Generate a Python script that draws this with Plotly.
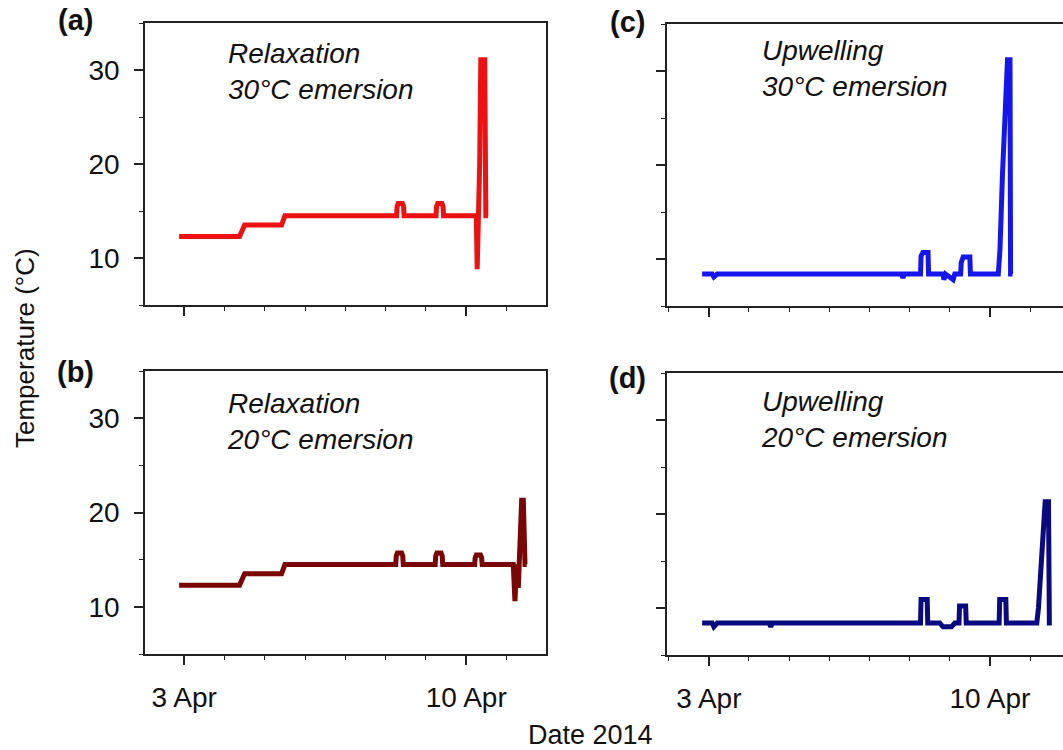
import plotly.graph_objects as go

# ---------------- data ----------------
a_time = ["2014-04-02 21:00", "2014-04-04 09:00", "2014-04-04 12:00", "2014-04-05 10:00",
          "2014-04-05 12:00", "2014-04-08 06:30", "2014-04-08 06:50", "2014-04-08 07:30",
          "2014-04-08 10:00", "2014-04-08 10:40", "2014-04-08 11:00", "2014-04-09 06:00",
          "2014-04-09 06:20", "2014-04-09 07:00", "2014-04-09 09:30", "2014-04-09 10:10",
          "2014-04-09 10:30", "2014-04-10 06:00", "2014-04-10 06:30", "2014-04-10 07:30",
          "2014-04-10 08:00", "2014-04-10 08:40", "2014-04-10 11:00", "2014-04-10 11:40",
          "2014-04-10 13:00"]
a_temp = [12.3, 12.3, 13.5, 13.5, 14.5, 14.5, 15.5, 15.8, 15.8, 15.5, 14.5, 14.5,
          15.5, 15.8, 15.8, 15.5, 14.5, 14.5, 8.8, 14.5, 20.0, 31.1, 31.1, 14.5, 14.5]

b_time = ["2014-04-02 21:00", "2014-04-04 09:00", "2014-04-04 12:00", "2014-04-05 10:00",
          "2014-04-05 12:00", "2014-04-08 06:00", "2014-04-08 06:20", "2014-04-08 07:00",
          "2014-04-08 09:30", "2014-04-08 10:10", "2014-04-08 10:30", "2014-04-09 05:30",
          "2014-04-09 05:50", "2014-04-09 06:30", "2014-04-09 09:00", "2014-04-09 09:40",
          "2014-04-09 10:00", "2014-04-10 05:00", "2014-04-10 05:20", "2014-04-10 06:00",
          "2014-04-10 08:30", "2014-04-10 09:10", "2014-04-10 09:30", "2014-04-11 04:00",
          "2014-04-11 05:00", "2014-04-11 06:00", "2014-04-11 07:00", "2014-04-11 08:00",
          "2014-04-11 09:00", "2014-04-11 10:00", "2014-04-11 11:00", "2014-04-11 12:00"]
b_temp = [12.3, 12.3, 13.5, 13.5, 14.5, 14.5, 15.4, 15.7, 15.7, 15.4, 14.5, 14.5,
          15.4, 15.7, 15.7, 15.4, 14.5, 14.5, 15.2, 15.5, 15.5, 15.2, 14.5, 14.5,
          10.6, 14.5, 12.0, 17.0, 21.3, 21.3, 14.5, 14.5]

c_time = ["2014-04-02 20:00", "2014-04-03 02:00", "2014-04-03 03:00", "2014-04-03 05:00",
          "2014-04-07 19:00", "2014-04-07 20:00", "2014-04-07 21:00", "2014-04-08 06:30",
          "2014-04-08 06:50", "2014-04-08 08:00", "2014-04-08 11:00", "2014-04-08 11:20",
          "2014-04-08 20:00", "2014-04-08 20:30", "2014-04-08 21:30", "2014-04-09 02:00",
          "2014-04-09 03:00", "2014-04-09 06:30", "2014-04-09 06:50", "2014-04-09 08:00",
          "2014-04-09 12:00", "2014-04-09 12:20", "2014-04-10 05:00", "2014-04-10 06:00",
          "2014-04-10 07:30", "2014-04-10 09:00", "2014-04-10 10:30", "2014-04-10 12:00",
          "2014-04-10 12:20", "2014-04-10 13:30"]
c_temp = [8.4, 8.4, 8.1, 8.4, 8.4, 8.0, 8.4, 8.4, 10.3, 10.7, 10.7, 8.4,
          8.4, 7.8, 8.4, 7.8, 8.4, 8.4, 9.6, 10.2, 10.2, 8.4, 8.4, 11.0,
          19.0, 27.0, 31.2, 31.2, 8.4, 8.4]

d_time = ["2014-04-02 20:00", "2014-04-03 02:00", "2014-04-03 03:00", "2014-04-03 05:00",
          "2014-04-04 12:00", "2014-04-04 13:00", "2014-04-04 14:00", "2014-04-08 06:30",
          "2014-04-08 06:50", "2014-04-08 08:00", "2014-04-08 10:30", "2014-04-08 10:50",
          "2014-04-08 18:00", "2014-04-08 20:00", "2014-04-09 01:00", "2014-04-09 03:00",
          "2014-04-09 05:30", "2014-04-09 05:50", "2014-04-09 09:30", "2014-04-09 09:50",
          "2014-04-10 05:30", "2014-04-10 05:50", "2014-04-10 09:30", "2014-04-10 09:50",
          "2014-04-11 04:00", "2014-04-11 05:00", "2014-04-11 06:30", "2014-04-11 08:00",
          "2014-04-11 09:00", "2014-04-11 11:00", "2014-04-11 11:30", "2014-04-11 13:00"]
d_temp = [8.4, 8.4, 8.0, 8.4, 8.4, 8.0, 8.4, 8.4, 10.9, 10.9, 10.9, 8.4,
          8.4, 8.0, 8.0, 8.4, 8.4, 10.2, 10.2, 8.4, 8.4, 10.9, 10.9, 8.4,
          8.4, 10.0, 14.0, 18.0, 21.3, 21.3, 8.4, 8.4]

series = [
    ("a", a_time, a_temp, "#ee1111"),
    ("b", b_time, b_temp, "#7a0505"),
    ("c", c_time, c_temp, "#1515ee"),
    ("d", d_time, d_temp, "#0a0a80"),
]

panel_text = {
    "a": "Relaxation<br>30°C emersion",
    "b": "Relaxation<br>20°C emersion",
    "c": "Upwelling<br>30°C emersion",
    "d": "Upwelling<br>20°C emersion",
}

xtick_vals = ["2014-04-03", "2014-04-10"]
xtick_text = ["3 Apr", "10 Apr"]
ytick_vals = [10, 20, 30]
ytick_text = ["10", "20", "30"]

# ---------------- layout geometry ----------------
W, H = 1063, 750
FONT = "Liberation Sans, Arial, sans-serif"
AX = "#222222"

axes_map = {"a": ("x", "y"), "b": ("x2", "y2"), "c": ("x3", "y3"), "d": ("x4", "y4")}
xdom = {"a": [145 / W, 546 / W], "b": [145 / W, 546 / W],
        "c": [667 / W, 1.0], "d": [667 / W, 1.0]}
ydom = {"a": [1 - 305 / H, 1 - 23 / H], "b": [1 - 654 / H, 1 - 371 / H],
        "c": [1 - 306 / H, 1 - 24 / H], "d": [1 - 655 / H, 1 - 373 / H]}
xrng = {"a": ["2014-04-02 00:40", "2014-04-11 23:30"],
        "b": ["2014-04-02 00:40", "2014-04-11 23:30"],
        "c": ["2014-04-01 23:00", "2014-04-11 19:40"],
        "d": ["2014-04-01 23:00", "2014-04-11 19:40"]}

fig = go.Figure()
for key, t, v, col in series:
    xa, ya = axes_map[key]
    fig.add_trace(go.Scatter(x=t, y=v, mode="lines", xaxis=xa, yaxis=ya,
                             line=dict(color=col, width=5), showlegend=False))

layout = dict(width=W, height=H, margin=dict(l=0, r=0, t=0, b=0),
              paper_bgcolor="white", plot_bgcolor="white",
              font=dict(family=FONT, size=26, color="#111111"))

for key in "abcd":
    xa, ya = axes_map[key]
    xname = "xaxis" + xa[1:]
    yname = "yaxis" + ya[1:]
    bottom = key in "bd"
    left = key in "ab"
    layout[xname] = dict(
        domain=xdom[key], range=xrng[key], type="date", anchor=ya,
        showline=True, linecolor=AX, linewidth=1.5, mirror=True,
        showgrid=False, zeroline=False,
        tickmode="array", tickvals=xtick_vals, ticktext=xtick_text,
        showticklabels=bottom, ticks="outside", ticklen=9, tickwidth=1.5, tickcolor=AX,
        ticklabelstandoff=9,
        minor=dict(dtick=86400000, tick0="2014-04-01", ticks="outside", ticklen=4,
                   tickwidth=1.2, tickcolor=AX, showgrid=False),
        tickfont=dict(size=28),
    )
    layout[yname] = dict(
        domain=ydom[key], range=[5, 35], anchor=xa,
        showline=True, linecolor=AX, linewidth=1.5, mirror=left,
        showgrid=False, zeroline=False,
        tickmode="array", tickvals=ytick_vals, ticktext=ytick_text,
        showticklabels=left, ticks="outside", ticklen=9, tickwidth=1.5, tickcolor=AX,
        ticklabelstandoff=9,
        minor=dict(dtick=5, tick0=0, ticks="outside", ticklen=4, tickwidth=1.2,
                   tickcolor=AX, showgrid=False),
        tickfont=dict(size=28),
    )

annotations = []
text_pos = {"a": (226, 71), "b": (225, 421), "c": (760, 68), "d": (759, 419)}
for key, (px, py) in text_pos.items():
    annotations.append(dict(text="<i>" + panel_text[key] + "</i>", xref="paper", yref="paper",
                            x=px / W, y=1 - py / H, xanchor="left", yanchor="middle",
                            align="left", showarrow=False, font=dict(size=28, color="#111111")))

label_pos = {"a": (75, 20), "b": (75, 372), "c": (627, 22), "d": (627, 378)}
for key, (px, py) in label_pos.items():
    annotations.append(dict(text="<b>(" + key + ")</b>", xref="paper", yref="paper",
                            x=px / W, y=1 - py / H, xanchor="center", yanchor="middle",
                            showarrow=False, font=dict(size=29, color="#111111")))

annotations.append(dict(text="Temperature (°C)", xref="paper", yref="paper",
                        x=25 / W, y=1 - 348 / H, xanchor="center", yanchor="middle",
                        textangle=-90, showarrow=False, font=dict(size=26, color="#111111")))
annotations.append(dict(text="Date 2014", xref="paper", yref="paper",
                        x=590 / W, y=1 - 735 / H, xanchor="center", yanchor="middle",
                        showarrow=False, font=dict(size=27, color="#111111")))
layout["annotations"] = annotations

fig.update_layout(**layout)
fig.write_html("out.html")
